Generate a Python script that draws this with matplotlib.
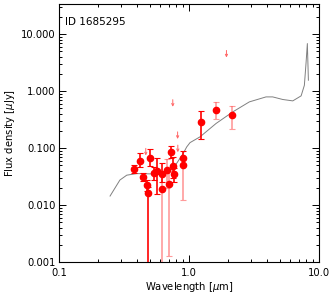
import numpy as np
import matplotlib
matplotlib.use("Agg")
import matplotlib.pyplot as plt
from matplotlib.ticker import LogLocator, FixedLocator, NullFormatter

# Photometry (wavelength um, flux uJy, lower, upper, bright errorbar flag)
lam = [0.378, 0.422, 0.443, 0.473, 0.480, 0.499, 0.541, 0.571, 0.620, 0.623,
       0.678, 0.698, 0.728, 0.757, 0.762, 0.900, 0.900, 1.236, 1.62, 2.14]
flux = [0.0423, 0.0598, 0.0316, 0.0222, 0.0162, 0.068, 0.0369, 0.0395, 0.0188, 0.0347,
        0.0416, 0.0233, 0.084, 0.0489, 0.035, 0.0668, 0.0497, 0.289, 0.477, 0.384]
flo = [0.036, 0.047, 0.027, 0.018, 0.0009, 0.048, 0.028, 0.0155, 0.0009, 0.025,
       0.020, 0.0013, 0.067, 0.030, 0.025, 0.050, 0.0122, 0.142, 0.319, 0.213]
fhi = [0.050, 0.081, 0.037, 0.028, 0.021, 0.098, 0.047, 0.066, 0.034, 0.055,
       0.065, 0.040, 0.110, 0.070, 0.045, 0.090, 0.070, 0.447, 0.634, 0.546]
bright = [1, 1, 1, 1, 1, 1, 1, 1, 0, 1,
          0, 0, 1, 1, 1, 1, 0, 1, 0, 0]

# Upper limits
ul_lam = [1.94, 0.75, 0.817, 0.82, 0.465]
ul_flux = [5.2, 0.71, 0.193, 0.113, 0.099]

# Model SED
mod_lam = [0.247, 0.294, 0.332, 0.396, 0.565, 0.653, 0.757, 0.903, 0.96, 1.018, 1.216,
           1.614, 2.17, 2.91, 3.91, 4.40, 5.26, 6.28, 7.28, 7.71, 7.94, 8.13, 8.28]
mod_flux = [0.0144, 0.0275, 0.0335, 0.0357, 0.0351, 0.0357, 0.044, 0.081, 0.105, 0.125, 0.158,
            0.271, 0.433, 0.649, 0.794, 0.794, 0.715, 0.676, 0.828, 1.27, 3.09, 6.87, 1.56]

fig = plt.figure(figsize=(3.32, 2.95), dpi=100)
ax = fig.add_axes([0.1777, 0.1119, 0.7833, 0.8745])

ax.plot(mod_lam, mod_flux, color='#808080', lw=0.7, zorder=2)

for x, f, lo, hi, b in zip(lam, flux, flo, fhi, bright):
    col = (1, 0, 0, 1.0) if b else (1, 0.35, 0.35, 0.6)
    ax.errorbar([x], [f], yerr=[[f - lo], [hi - f]], fmt='none', ecolor=col,
                elinewidth=1.2, capsize=2, capthick=0.8, zorder=3)
for x, f in zip(lam, flux):
    ax.plot([x], [f], 'o', color='red', ms=4.5, mec='red', zorder=4)

for x, f in zip(ul_lam, ul_flux):
    ax.annotate('', xy=(x, f * 0.75), xytext=(x, f),
                arrowprops=dict(arrowstyle='->', color=(1, 0.4, 0.4), lw=0.7,
                                mutation_scale=4, shrinkA=0, shrinkB=0), zorder=3)

ax.set_xscale('log')
ax.set_yscale('log')
ax.set_xlim(0.1, 10)
ax.set_ylim(0.001, 34)

ax.xaxis.set_major_locator(FixedLocator([0.1, 1.0, 10.0]))
ax.set_xticklabels(['0.1', '1.0', '10.0'])
ax.yaxis.set_major_locator(FixedLocator([0.001, 0.01, 0.1, 1.0, 10.0]))
ax.set_yticklabels(['0.001', '0.010', '0.100', '1.000', '10.000'])
ax.xaxis.set_minor_locator(LogLocator(base=10, subs=np.arange(2, 10)))
ax.yaxis.set_minor_locator(LogLocator(base=10, subs=np.arange(2, 10)))
ax.xaxis.set_minor_formatter(NullFormatter())
ax.yaxis.set_minor_formatter(NullFormatter())
ax.tick_params(which='both', direction='in', top=True, right=True, labelsize=7.2, width=0.7)
ax.tick_params(which='major', length=5)
ax.tick_params(which='minor', length=2.5)
ax.tick_params(axis='x', pad=4)
ax.tick_params(axis='y', pad=2.5)
for s in ax.spines.values():
    s.set_linewidth(0.8)

ax.set_xlabel('Wavelength [$\\mu$m]', fontsize=7.2, labelpad=2)
ax.set_ylabel('Flux density [$\\mu$Jy]', fontsize=7.2, labelpad=3)
ax.text(0.023, 0.93, 'ID 1685295', transform=ax.transAxes, fontsize=7.5, va='center', ha='left')

fig.savefig('out.png', dpi=100)
